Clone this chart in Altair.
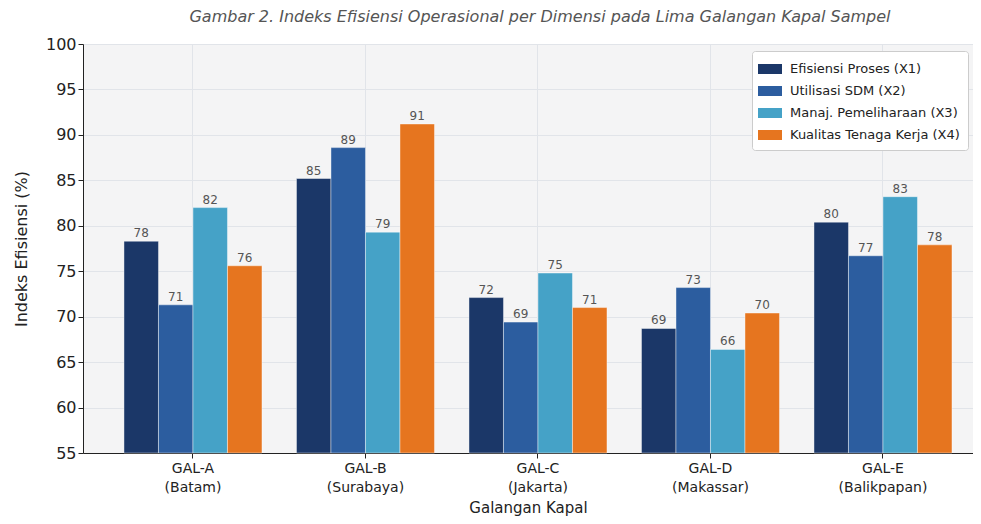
import altair as alt
import pandas as pd

categories = ["GAL-A\n(Batam)", "GAL-B\n(Surabaya)", "GAL-C\n(Jakarta)", "GAL-D\n(Makassar)", "GAL-E\n(Balikpapan)"]
series = ["Efisiensi Proses (X1)", "Utilisasi SDM (X2)", "Manaj. Pemeliharaan (X3)", "Kualitas Tenaga Kerja (X4)"]
x1 = [78.3, 85.2, 72.1, 68.7, 80.4]
x2 = [71.3, 88.6, 69.4, 73.2, 76.7]
x3 = [82.0, 79.3, 74.8, 66.4, 83.2]
x4 = [75.6, 91.2, 71.0, 70.4, 77.9]
colors = ["#1b3768", "#2c5d9f", "#45a2c7", "#e6751f"]

rows = []
for s, vals in zip(series, [x1, x2, x3, x4]):
    for c, v in zip(categories, vals):
        rows.append({"cat": c, "series": s, "value": v})
df = pd.DataFrame(rows)

FONT = "DejaVu Sans"

x_enc = alt.X(
    "cat:N",
    sort=categories,
    title="Galangan Kapal",
    scale=alt.Scale(paddingInner=0.2, paddingOuter=0.1797, align=0.661),
    axis=alt.Axis(
        labelExpr="split(datum.label, '\\n')",
        labelAngle=0,
        labelFontSize=14,
        labelColor="#222",
        titleFontSize=15,
        titleFontWeight="normal",
        titleColor="#222",
        titleY=59,
        titleBaseline="alphabetic",
        bandPosition=0.5,
        grid=True,
        gridColor="#e1e4e9",
        domainColor="#222",
        tickColor="#222",
        tickSize=5,
        labelPadding=3,
        labelLineHeight=19,
    ),
)
xoff = alt.XOffset("series:N", sort=series, scale=alt.Scale(paddingInner=0, paddingOuter=0))
color = alt.Color(
    "series:N",
    sort=series,
    scale=alt.Scale(domain=series, range=colors),
    legend=alt.Legend(
        title=None,
        orient="none",
        legendX=669,
        legendY=7,
        fillColor="white",
        strokeColor="#cccccc",
        cornerRadius=3,
        padding=8,
        labelFontSize=13,
        labelColor="#222",
        labelLimit=0,
        symbolType="M-1.2,-0.5H1.2V0.5H-1.2Z",
        symbolSize=400,
        symbolStrokeWidth=0,
        rowPadding=5,
        labelOffset=10,
    ),
)

base = alt.Chart(df)

bars = base.mark_bar(stroke="white", strokeWidth=0.6, strokeOpacity=0.7).encode(
    x=x_enc,
    xOffset=xoff,
    y=alt.Y(
        "value:Q",
        title="Indeks Efisiensi (%)",
        scale=alt.Scale(domain=[55, 100], zero=False, nice=False),
        axis=alt.Axis(
            values=list(range(55, 101, 5)),
            labelFontSize=16,
            labelColor="#222",
            titleFontSize=16,
            titleFontWeight="normal",
            titleColor="#222",
            titlePadding=16,
            grid=True,
            gridColor="#e1e4e9",
            domainColor="#222",
            tickColor="#222",
            tickSize=5,
        ),
    ),
    y2=alt.datum(55),
    color=color,
)

labels = base.mark_text(dy=-8, fontSize=12, color="#555555", font=FONT).encode(
    x=alt.X("cat:N", sort=categories),
    xOffset=xoff,
    y="value:Q",
    text=alt.Text("value:Q", format=".0f"),
)

chart = (
    alt.layer(bars, labels)
    .properties(
        width=890,
        height=409,
        title=alt.TitleParams(
            "Gambar 2. Indeks Efisiensi Operasional per Dimensi pada Lima Galangan Kapal Sampel",
            fontSize=16,
            fontStyle="italic",
            fontWeight="normal",
            color="#555555",
            anchor="middle",
            offset=11,
            dx=12,
        ),
        autosize=alt.AutoSizeParams(type="none"),
        padding={"left": 75, "top": 36, "right": 0, "bottom": 63},
    )
    .configure(font=FONT)
    .configure_view(fill="#f4f4f5", stroke=None)
)

chart.save("out.html", embed_options={"renderer": "svg", "actions": False})
